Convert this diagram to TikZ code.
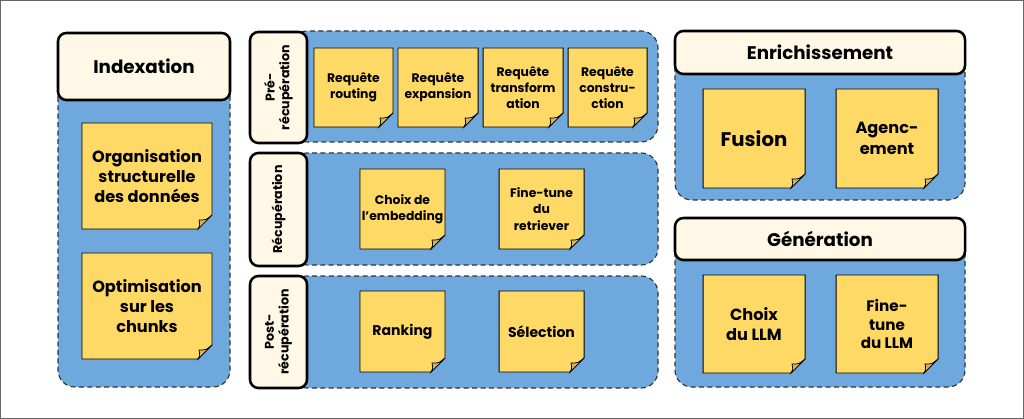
\documentclass[tikz,border=0pt]{standalone}
\usepackage{fontspec}
\setmainfont{Poppins}
\definecolor{panelblue}{HTML}{6FA8DC}
\definecolor{notefill}{HTML}{FFD966}
\definecolor{foldfill}{HTML}{D6B25E}
\definecolor{headfill}{HTML}{FFF8E7}
\tikzset{
  panel/.style={fill=panelblue, draw=black!80, dash pattern=on 3.5pt off 2.5pt, line width=0.8pt, rounded corners=12pt},
  headbox/.style={fill=headfill, draw=black, line width=1.8pt, rounded corners=6pt},
  notebox/.style={fill=notefill, draw=black, line width=0.7pt},
  fold/.style={fill=foldfill, draw=black, line width=0.5pt},
  notetxt/.style={align=center, inner sep=0pt},
  headtxt/.style={font=\bfseries\fontsize{13}{15}\selectfont},
  sidetxt/.style={rotate=90, align=center, font=\bfseries\fontsize{9}{10.5}\selectfont},
}
% sticky note: [font]{name}{x1}{y1}{x2}{y2}{text}
\newcommand{\postit}[7][\normalsize]{%
  \draw[notebox] (#3,#4) -- (#5,#4) -- ({#5},{#6-14}) -- ({#5-14},{#6}) -- (#3,#6) -- cycle;
  \draw[fold] ({#5},{#6-14}) .. controls ({#5-6},{#6-9}) .. ({#5-13},{#6-9}) .. controls ({#5-12},{#6-4}) .. ({#5-14},{#6}) -- cycle;
  \node[notetxt, font=\bfseries#1] (#2) at ({(#3+#5)/2},{(#4+#6)/2}) {#7};
}
\newcommand{\bigtxt}{\fontsize{11.5}{14.5}\selectfont}
\newcommand{\midtxt}{\fontsize{10}{12}\selectfont}
\newcommand{\smalltxt}{\fontsize{8.8}{11.5}\selectfont}
\begin{document}
\begin{tikzpicture}[x=0.025cm,y=-0.025cm]
\useasboundingbox (0,0) rectangle (1024,419);
\draw[black!60, line width=0.8pt] (0.5,0.5) rectangle (1023.5,418.5);

% Indexation
\draw[panel] (58,80) rectangle (230,387);
\draw[headbox] (58,33) rectangle (230,100);
\node[headtxt] (indexation) at (144,66.5) {Indexation};
\postit[\bigtxt]{orga}{82}{123}{212}{229}{Organisation\\structurelle\\des données}
\postit[\bigtxt]{optim}{82}{253}{212}{359}{Optimisation\\sur les\\chunks}

% Pre-recuperation
\draw[panel] (290,31) rectangle (658,142);
\draw[headbox] (250,32) rectangle (307,143);
\node[sidetxt] (prerecup) at (278.5,87.5) {Pré-\\récupération};
\postit[\smalltxt]{routing}{314}{48}{393}{127}{Requête\\routing}
\postit[\smalltxt]{expansion}{398}{48}{478}{127}{Requête\\expansion}
\postit[\smalltxt]{transfo}{483}{48}{563}{127}{Requête\\transform\\ation}
\postit[\smalltxt]{constru}{568}{48}{647}{127}{Requête\\constru-\\ction}

% Recuperation
\draw[panel] (290,153) rectangle (658,265);
\draw[headbox] (250,153) rectangle (307,266);
\node[sidetxt] (recup) at (278.5,209.5) {Récupération};
\postit[\smalltxt]{embedding}{360}{169}{445}{249}{Choix de\\l'embedding}
\postit[\smalltxt]{retriever}{499}{169}{584}{249}{Fine-tune\\du\\retriever}

% Post-recuperation
\draw[panel] (290,276) rectangle (658,388);
\draw[headbox] (250,276) rectangle (307,388);
\node[sidetxt] (postrecup) at (278.5,332) {Post-\\récupération};
\postit[\midtxt]{ranking}{360}{291}{445}{372}{Ranking}
\postit[\midtxt]{selection}{499}{291}{584}{372}{Sélection}

% Enrichissement
\draw[panel] (675,50) rectangle (965,200);
\draw[headbox] (675,31) rectangle (965,74);
\node[headtxt] (enrich) at (820,52.5) {Enrichissement};
\postit[\fontsize{14}{17}\selectfont]{fusion}{703}{89}{805}{188}{Fusion}
\postit[\bigtxt]{agencement}{836}{89}{938}{188}{Agenc-\\ement}

% Generation
\draw[panel] (675,235) rectangle (965,387);
\draw[headbox] (675,218) rectangle (965,260);
\node[headtxt] (generation) at (820,239) {Génération};
\postit[\bigtxt]{choixllm}{703}{275}{805}{373}{Choix\\du LLM}
\postit[\fontsize{10.8}{13}\selectfont]{finellm}{836}{275}{938}{373}{Fine-\\tune\\du LLM}
\end{tikzpicture}
\end{document}
